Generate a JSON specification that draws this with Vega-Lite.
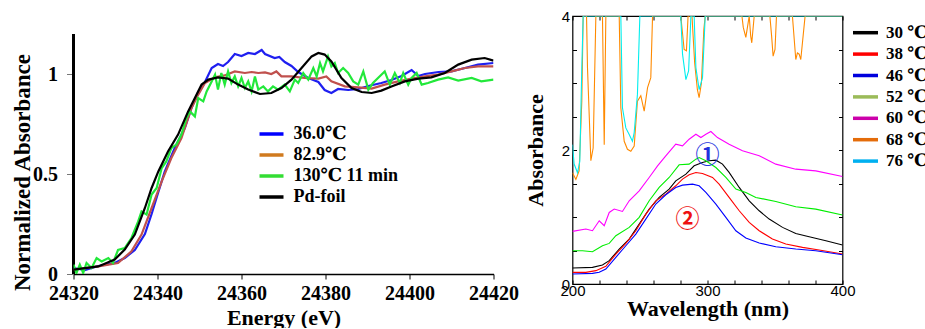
{
"$schema": "https://vega.github.io/schema/vega-lite/v6.json",
"padding": {"left": 10.5, "top": 8, "right": 0, "bottom": 0},
"background": "white",
"spacing": 79,
"bounds": "flush",
"config": {"view": {"stroke": null}, "axis": {"grid": false, "labelColor": "black", "titleColor": "black"}},
"datasets": {
"xanes": [
{"s":"36.0℃","E":24320.0,"A":0.03},{"s":"36.0℃","E":24322.7,"A":0.02},{"s":"36.0℃","E":24325.9,"A":0.04},{"s":"36.0℃","E":24329.8,"A":0.055},{"s":"36.0℃","E":24332.2,"A":0.08},{"s":"36.0℃","E":24334.6,"A":0.12},{"s":"36.0℃","E":24337.0,"A":0.2},{"s":"36.0℃","E":24338.6,"A":0.3},{"s":"36.0℃","E":24340.2,"A":0.41},{"s":"36.0℃","E":24341.7,"A":0.51},{"s":"36.0℃","E":24344.1,"A":0.63},{"s":"36.0℃","E":24346.5,"A":0.73},{"s":"36.0℃","E":24348.1,"A":0.83},{"s":"36.0℃","E":24349.7,"A":0.91},{"s":"36.0℃","E":24351.3,"A":0.96},{"s":"36.0℃","E":24352.9,"A":1.03},{"s":"36.0℃","E":24354.4,"A":1.05},{"s":"36.0℃","E":24355.6,"A":1.04},{"s":"36.0℃","E":24356.8,"A":1.06},{"s":"36.0℃","E":24358.4,"A":1.1},{"s":"36.0℃","E":24360.0,"A":1.09},{"s":"36.0℃","E":24361.6,"A":1.105},{"s":"36.0℃","E":24363.2,"A":1.1},{"s":"36.0℃","E":24364.8,"A":1.12},{"s":"36.0℃","E":24365.6,"A":1.1},{"s":"36.0℃","E":24367.9,"A":1.08},{"s":"36.0℃","E":24369.0,"A":1.085},{"s":"36.0℃","E":24370.3,"A":1.06},{"s":"36.0℃","E":24371.9,"A":1.04},{"s":"36.0℃","E":24373.5,"A":1.01},{"s":"36.0℃","E":24375.9,"A":0.98},{"s":"36.0℃","E":24378.3,"A":0.96},{"s":"36.0℃","E":24379.8,"A":0.92},{"s":"36.0℃","E":24381.4,"A":0.905},{"s":"36.0℃","E":24383.0,"A":0.925},{"s":"36.0℃","E":24385.4,"A":0.92},{"s":"36.0℃","E":24387.8,"A":0.925},{"s":"36.0℃","E":24390.2,"A":0.94},{"s":"36.0℃","E":24393.3,"A":0.955},{"s":"36.0℃","E":24395.7,"A":0.97},{"s":"36.0℃","E":24398.1,"A":0.99},{"s":"36.0℃","E":24400.5,"A":1.02},{"s":"36.0℃","E":24402.1,"A":0.99},{"s":"36.0℃","E":24403.7,"A":1.0},{"s":"36.0℃","E":24406.9,"A":1.01},{"s":"36.0℃","E":24410.0,"A":1.013},{"s":"36.0℃","E":24413.2,"A":1.03},{"s":"36.0℃","E":24416.3,"A":1.047},{"s":"36.0℃","E":24420.0,"A":1.055},
{"s":"82.9℃","E":24320.0,"A":0.022},{"s":"82.9℃","E":24325.9,"A":0.038},{"s":"82.9℃","E":24330.6,"A":0.055},{"s":"82.9℃","E":24333.8,"A":0.113},{"s":"82.9℃","E":24336.2,"A":0.197},{"s":"82.9℃","E":24338.6,"A":0.33},{"s":"82.9℃","E":24341.0,"A":0.463},{"s":"82.9℃","E":24343.3,"A":0.58},{"s":"82.9℃","E":24345.7,"A":0.68},{"s":"82.9℃","E":24348.1,"A":0.83},{"s":"82.9℃","E":24349.7,"A":0.897},{"s":"82.9℃","E":24351.3,"A":0.955},{"s":"82.9℃","E":24353.7,"A":0.983},{"s":"82.9℃","E":24356.0,"A":0.993},{"s":"82.9℃","E":24358.4,"A":1.013},{"s":"82.9℃","E":24360.8,"A":1.005},{"s":"82.9℃","E":24362.4,"A":1.01},{"s":"82.9℃","E":24364.0,"A":1.005},{"s":"82.9℃","E":24365.6,"A":1.008},{"s":"82.9℃","E":24367.1,"A":1.0},{"s":"82.9℃","E":24368.3,"A":1.013},{"s":"82.9℃","E":24369.5,"A":0.988},{"s":"82.9℃","E":24371.9,"A":0.988},{"s":"82.9℃","E":24375.1,"A":0.98},{"s":"82.9℃","E":24378.3,"A":0.977},{"s":"82.9℃","E":24380.2,"A":0.988},{"s":"82.9℃","E":24381.4,"A":0.963},{"s":"82.9℃","E":24384.6,"A":0.938},{"s":"82.9℃","E":24387.8,"A":0.933},{"s":"82.9℃","E":24391.0,"A":0.927},{"s":"82.9℃","E":24394.1,"A":0.947},{"s":"82.9℃","E":24397.3,"A":0.963},{"s":"82.9℃","E":24400.5,"A":0.977},{"s":"82.9℃","E":24403.7,"A":0.988},{"s":"82.9℃","E":24406.8,"A":0.997},{"s":"82.9℃","E":24410.0,"A":1.013},{"s":"82.9℃","E":24413.2,"A":1.03},{"s":"82.9℃","E":24416.3,"A":1.038},{"s":"82.9℃","E":24420.0,"A":1.038},
{"s":"130℃ 11 min","E":24320.0,"A":0.047},{"s":"130℃ 11 min","E":24320.7,"A":0.005},{"s":"130℃ 11 min","E":24321.5,"A":0.047},{"s":"130℃ 11 min","E":24322.3,"A":0.005},{"s":"130℃ 11 min","E":24323.1,"A":0.055},{"s":"130℃ 11 min","E":24324.3,"A":0.03},{"s":"130℃ 11 min","E":24325.5,"A":0.08},{"s":"130℃ 11 min","E":24326.7,"A":0.063},{"s":"130℃ 11 min","E":24328.3,"A":0.08},{"s":"130℃ 11 min","E":24329.4,"A":0.055},{"s":"130℃ 11 min","E":24330.6,"A":0.12},{"s":"130℃ 11 min","E":24332.2,"A":0.13},{"s":"130℃ 11 min","E":24333.8,"A":0.18},{"s":"130℃ 11 min","E":24335.4,"A":0.263},{"s":"130℃ 11 min","E":24336.2,"A":0.313},{"s":"130℃ 11 min","E":24337.4,"A":0.297},{"s":"130℃ 11 min","E":24338.6,"A":0.397},{"s":"130℃ 11 min","E":24339.8,"A":0.43},{"s":"130℃ 11 min","E":24341.0,"A":0.53},{"s":"130℃ 11 min","E":24342.1,"A":0.563},{"s":"130℃ 11 min","E":24343.3,"A":0.63},{"s":"130℃ 11 min","E":24344.5,"A":0.647},{"s":"130℃ 11 min","E":24345.7,"A":0.697},{"s":"130℃ 11 min","E":24346.9,"A":0.78},{"s":"130℃ 11 min","E":24347.7,"A":0.813},{"s":"130℃ 11 min","E":24348.9,"A":0.788},{"s":"130℃ 11 min","E":24349.7,"A":0.88},{"s":"130℃ 11 min","E":24350.9,"A":0.863},{"s":"130℃ 11 min","E":24351.7,"A":0.913},{"s":"130℃ 11 min","E":24352.9,"A":0.963},{"s":"130℃ 11 min","E":24353.7,"A":0.997},{"s":"130℃ 11 min","E":24354.4,"A":0.922},{"s":"130℃ 11 min","E":24355.2,"A":1.005},{"s":"130℃ 11 min","E":24356.0,"A":0.947},{"s":"130℃ 11 min","E":24356.8,"A":1.013},{"s":"130℃ 11 min","E":24357.6,"A":0.955},{"s":"130℃ 11 min","E":24358.4,"A":0.988},{"s":"130℃ 11 min","E":24359.2,"A":0.938},{"s":"130℃ 11 min","E":24360.0,"A":0.98},{"s":"130℃ 11 min","E":24360.8,"A":0.93},{"s":"130℃ 11 min","E":24361.6,"A":0.963},{"s":"130℃ 11 min","E":24362.4,"A":0.913},{"s":"130℃ 11 min","E":24363.2,"A":0.988},{"s":"130℃ 11 min","E":24364.0,"A":0.922},{"s":"130℃ 11 min","E":24365.2,"A":0.938},{"s":"130℃ 11 min","E":24366.3,"A":0.913},{"s":"130℃ 11 min","E":24367.5,"A":0.938},{"s":"130℃ 11 min","E":24368.7,"A":0.922},{"s":"130℃ 11 min","E":24370.3,"A":0.947},{"s":"130℃ 11 min","E":24371.5,"A":0.913},{"s":"130℃ 11 min","E":24372.7,"A":0.972},{"s":"130℃ 11 min","E":24373.5,"A":0.955},{"s":"130℃ 11 min","E":24374.7,"A":1.005},{"s":"130℃ 11 min","E":24375.9,"A":0.972},{"s":"130℃ 11 min","E":24377.1,"A":1.03},{"s":"130℃ 11 min","E":24377.9,"A":0.988},{"s":"130℃ 11 min","E":24378.7,"A":1.055},{"s":"130℃ 11 min","E":24379.4,"A":1.013},{"s":"130℃ 11 min","E":24380.6,"A":1.088},{"s":"130℃ 11 min","E":24381.4,"A":1.038},{"s":"130℃ 11 min","E":24382.2,"A":1.055},{"s":"130℃ 11 min","E":24383.0,"A":1.005},{"s":"130℃ 11 min","E":24384.2,"A":1.03},{"s":"130℃ 11 min","E":24385.4,"A":1.005},{"s":"130℃ 11 min","E":24386.6,"A":0.963},{"s":"130℃ 11 min","E":24387.8,"A":0.947},{"s":"130℃ 11 min","E":24389.0,"A":1.013},{"s":"130℃ 11 min","E":24390.2,"A":0.922},{"s":"130℃ 11 min","E":24391.3,"A":0.955},{"s":"130℃ 11 min","E":24392.5,"A":0.98},{"s":"130℃ 11 min","E":24394.1,"A":1.013},{"s":"130℃ 11 min","E":24395.3,"A":0.947},{"s":"130℃ 11 min","E":24396.5,"A":1.005},{"s":"130℃ 11 min","E":24397.7,"A":0.955},{"s":"130℃ 11 min","E":24398.5,"A":1.005},{"s":"130℃ 11 min","E":24399.7,"A":0.947},{"s":"130℃ 11 min","E":24400.5,"A":0.98},{"s":"130℃ 11 min","E":24401.7,"A":1.005},{"s":"130℃ 11 min","E":24402.9,"A":0.947},{"s":"130℃ 11 min","E":24404.4,"A":0.955},{"s":"130℃ 11 min","E":24406.8,"A":0.972},{"s":"130℃ 11 min","E":24409.2,"A":0.983},{"s":"130℃ 11 min","E":24411.6,"A":0.967},{"s":"130℃ 11 min","E":24414.8,"A":0.98},{"s":"130℃ 11 min","E":24417.1,"A":0.963},{"s":"130℃ 11 min","E":24420.0,"A":0.972},
{"s":"Pd-foil","E":24320.0,"A":0.022},{"s":"Pd-foil","E":24325.9,"A":0.038},{"s":"Pd-foil","E":24329.8,"A":0.072},{"s":"Pd-foil","E":24332.2,"A":0.122},{"s":"Pd-foil","E":24334.6,"A":0.197},{"s":"Pd-foil","E":24337.0,"A":0.33},{"s":"Pd-foil","E":24338.6,"A":0.43},{"s":"Pd-foil","E":24340.2,"A":0.513},{"s":"Pd-foil","E":24342.5,"A":0.613},{"s":"Pd-foil","E":24344.9,"A":0.697},{"s":"Pd-foil","E":24347.3,"A":0.813},{"s":"Pd-foil","E":24348.9,"A":0.88},{"s":"Pd-foil","E":24350.5,"A":0.947},{"s":"Pd-foil","E":24352.1,"A":0.972},{"s":"Pd-foil","E":24354.4,"A":0.983},{"s":"Pd-foil","E":24356.8,"A":0.977},{"s":"Pd-foil","E":24359.2,"A":0.947},{"s":"Pd-foil","E":24361.6,"A":0.922},{"s":"Pd-foil","E":24364.4,"A":0.9},{"s":"Pd-foil","E":24367.1,"A":0.905},{"s":"Pd-foil","E":24369.5,"A":0.93},{"s":"Pd-foil","E":24371.9,"A":0.972},{"s":"Pd-foil","E":24374.3,"A":1.03},{"s":"Pd-foil","E":24376.7,"A":1.088},{"s":"Pd-foil","E":24378.3,"A":1.105},{"s":"Pd-foil","E":24379.8,"A":1.097},{"s":"Pd-foil","E":24381.4,"A":1.063},{"s":"Pd-foil","E":24383.8,"A":0.98},{"s":"Pd-foil","E":24386.2,"A":0.93},{"s":"Pd-foil","E":24388.6,"A":0.91},{"s":"Pd-foil","E":24391.0,"A":0.905},{"s":"Pd-foil","E":24393.3,"A":0.917},{"s":"Pd-foil","E":24395.7,"A":0.938},{"s":"Pd-foil","E":24398.9,"A":0.963},{"s":"Pd-foil","E":24402.1,"A":0.977},{"s":"Pd-foil","E":24405.2,"A":0.983},{"s":"Pd-foil","E":24408.4,"A":1.005},{"s":"Pd-foil","E":24411.6,"A":1.047},{"s":"Pd-foil","E":24414.8,"A":1.072},{"s":"Pd-foil","E":24417.9,"A":1.08},{"s":"Pd-foil","E":24420.0,"A":1.067}
],
"uv": [
{"s":"30 ℃","w":200,"A":0.239},{"s":"30 ℃","w":214.8,"A":0.248},{"s":"30 ℃","w":222.2,"A":0.283},{"s":"30 ℃","w":227.2,"A":0.348},{"s":"30 ℃","w":234.6,"A":0.522},{"s":"30 ℃","w":242.0,"A":0.671},{"s":"30 ℃","w":249.4,"A":0.894},{"s":"30 ℃","w":256.8,"A":1.118},{"s":"30 ℃","w":264.2,"A":1.292},{"s":"30 ℃","w":271.6,"A":1.416},{"s":"30 ℃","w":276.5,"A":1.54},{"s":"30 ℃","w":284.0,"A":1.64},{"s":"30 ℃","w":290.1,"A":1.764},{"s":"30 ℃","w":296.3,"A":1.814},{"s":"30 ℃","w":301.2,"A":1.839},{"s":"30 ℃","w":306.2,"A":1.848},{"s":"30 ℃","w":311.1,"A":1.789},{"s":"30 ℃","w":316.0,"A":1.665},{"s":"30 ℃","w":323.5,"A":1.441},{"s":"30 ℃","w":330.9,"A":1.242},{"s":"30 ℃","w":338.3,"A":1.093},{"s":"30 ℃","w":345.7,"A":0.969},{"s":"30 ℃","w":355.6,"A":0.845},{"s":"30 ℃","w":365.4,"A":0.755},{"s":"30 ℃","w":375.3,"A":0.706},{"s":"30 ℃","w":387.7,"A":0.646},{"s":"30 ℃","w":400,"A":0.581},
{"s":"38 ℃","w":200,"A":0.174},{"s":"38 ℃","w":209.9,"A":0.174},{"s":"38 ℃","w":217.3,"A":0.199},{"s":"38 ℃","w":224.7,"A":0.263},{"s":"38 ℃","w":232.1,"A":0.447},{"s":"38 ℃","w":239.5,"A":0.606},{"s":"38 ℃","w":246.9,"A":0.795},{"s":"38 ℃","w":254.3,"A":1.043},{"s":"38 ℃","w":261.7,"A":1.242},{"s":"38 ℃","w":269.1,"A":1.342},{"s":"38 ℃","w":276.5,"A":1.466},{"s":"38 ℃","w":281.5,"A":1.565},{"s":"38 ℃","w":286.4,"A":1.63},{"s":"38 ℃","w":291.4,"A":1.665},{"s":"38 ℃","w":296.3,"A":1.65},{"s":"38 ℃","w":303.7,"A":1.59},{"s":"38 ℃","w":308.6,"A":1.491},{"s":"38 ℃","w":316.0,"A":1.292},{"s":"38 ℃","w":323.5,"A":1.093},{"s":"38 ℃","w":330.9,"A":0.919},{"s":"38 ℃","w":338.3,"A":0.795},{"s":"38 ℃","w":348.1,"A":0.671},{"s":"38 ℃","w":358.0,"A":0.596},{"s":"38 ℃","w":370.4,"A":0.547},{"s":"38 ℃","w":382.7,"A":0.507},{"s":"38 ℃","w":400,"A":0.447},
{"s":"46 ℃","w":200,"A":0.149},{"s":"46 ℃","w":214.8,"A":0.159},{"s":"46 ℃","w":219.8,"A":0.174},{"s":"46 ℃","w":224.7,"A":0.224},{"s":"46 ℃","w":232.1,"A":0.398},{"s":"46 ℃","w":239.5,"A":0.571},{"s":"46 ℃","w":246.9,"A":0.745},{"s":"46 ℃","w":254.3,"A":0.969},{"s":"46 ℃","w":261.7,"A":1.193},{"s":"46 ℃","w":269.1,"A":1.332},{"s":"46 ℃","w":276.5,"A":1.441},{"s":"46 ℃","w":281.5,"A":1.476},{"s":"46 ℃","w":288.9,"A":1.491},{"s":"46 ℃","w":293.8,"A":1.466},{"s":"46 ℃","w":298.8,"A":1.366},{"s":"46 ℃","w":306.2,"A":1.193},{"s":"46 ℃","w":313.6,"A":0.994},{"s":"46 ℃","w":321.0,"A":0.795},{"s":"46 ℃","w":328.4,"A":0.686},{"s":"46 ℃","w":338.3,"A":0.611},{"s":"46 ℃","w":350.6,"A":0.557},{"s":"46 ℃","w":365.4,"A":0.522},{"s":"46 ℃","w":380.2,"A":0.497},{"s":"46 ℃","w":400,"A":0.437},
{"s":"52 ℃","w":200,"A":0.497},{"s":"52 ℃","w":207.4,"A":0.497},{"s":"52 ℃","w":214.8,"A":0.482},{"s":"52 ℃","w":222.2,"A":0.571},{"s":"52 ℃","w":227.2,"A":0.606},{"s":"52 ℃","w":232.1,"A":0.72},{"s":"52 ℃","w":242.0,"A":0.845},{"s":"52 ℃","w":249.4,"A":0.994},{"s":"52 ℃","w":256.8,"A":1.242},{"s":"52 ℃","w":264.2,"A":1.441},{"s":"52 ℃","w":271.6,"A":1.59},{"s":"52 ℃","w":279.0,"A":1.779},{"s":"52 ℃","w":286.4,"A":1.789},{"s":"52 ℃","w":291.4,"A":1.863},{"s":"52 ℃","w":293.8,"A":1.888},{"s":"52 ℃","w":298.8,"A":1.839},{"s":"52 ℃","w":306.2,"A":1.739},{"s":"52 ℃","w":313.6,"A":1.59},{"s":"52 ℃","w":321.0,"A":1.416},{"s":"52 ℃","w":328.4,"A":1.366},{"s":"52 ℃","w":335.8,"A":1.292},{"s":"52 ℃","w":350.6,"A":1.232},{"s":"52 ℃","w":365.4,"A":1.153},{"s":"52 ℃","w":380.2,"A":1.118},{"s":"52 ℃","w":400,"A":1.029},
{"s":"60 ℃","w":200,"A":0.785},{"s":"60 ℃","w":209.9,"A":0.82},{"s":"60 ℃","w":214.8,"A":0.795},{"s":"60 ℃","w":219.8,"A":0.944},{"s":"60 ℃","w":223.5,"A":0.87},{"s":"60 ℃","w":227.2,"A":1.068},{"s":"60 ℃","w":230.9,"A":1.118},{"s":"60 ℃","w":237.0,"A":1.083},{"s":"60 ℃","w":242.0,"A":1.242},{"s":"60 ℃","w":249.4,"A":1.391},{"s":"60 ℃","w":256.8,"A":1.59},{"s":"60 ℃","w":263.0,"A":1.764},{"s":"60 ℃","w":269.1,"A":1.913},{"s":"60 ℃","w":276.5,"A":2.087},{"s":"60 ℃","w":281.5,"A":2.062},{"s":"60 ℃","w":286.4,"A":2.161},{"s":"60 ℃","w":291.4,"A":2.236},{"s":"60 ℃","w":295.1,"A":2.186},{"s":"60 ℃","w":298.8,"A":2.236},{"s":"60 ℃","w":302.5,"A":2.276},{"s":"60 ℃","w":307.4,"A":2.186},{"s":"60 ℃","w":316.0,"A":2.087},{"s":"60 ℃","w":325.9,"A":1.988},{"s":"60 ℃","w":338.3,"A":1.913},{"s":"60 ℃","w":350.6,"A":1.789},{"s":"60 ℃","w":365.4,"A":1.714},{"s":"60 ℃","w":380.2,"A":1.689},{"s":"60 ℃","w":400,"A":1.605},
{"s":"68 ℃","w":200,"A":1.66},{"s":"68 ℃","w":202.5,"A":1.56},{"s":"68 ℃","w":204.9,"A":1.69},{"s":"68 ℃","w":206.9,"A":2.73},{"s":"68 ℃","w":207.9,"A":4},{"s":"68 ℃","w":210.4,"A":4},{"s":"68 ℃","w":211.1,"A":3.23},{"s":"68 ℃","w":213.6,"A":1.84},{"s":"68 ℃","w":215.3,"A":2.03},{"s":"68 ℃","w":217.3,"A":4},{"s":"68 ℃","w":222.2,"A":4},{"s":"68 ℃","w":223.5,"A":2.08},{"s":"68 ℃","w":224.7,"A":4},{"s":"68 ℃","w":234.6,"A":4},{"s":"68 ℃","w":235.8,"A":2.63},{"s":"68 ℃","w":238.3,"A":2.13},{"s":"68 ℃","w":240.7,"A":2.01},{"s":"68 ℃","w":243.2,"A":1.98},{"s":"68 ℃","w":245.7,"A":2.06},{"s":"68 ℃","w":248.1,"A":2.73},{"s":"68 ℃","w":250.6,"A":2.81},{"s":"68 ℃","w":253.1,"A":2.58},{"s":"68 ℃","w":255.6,"A":2.93},{"s":"68 ℃","w":258.0,"A":3.08},{"s":"68 ℃","w":259.3,"A":4},{"s":"68 ℃","w":280.2,"A":4},{"s":"68 ℃","w":282.7,"A":3.5},{"s":"68 ℃","w":284.4,"A":3.48},{"s":"68 ℃","w":285.6,"A":4},{"s":"68 ℃","w":288.5,"A":4},{"s":"68 ℃","w":290.5,"A":3.3},{"s":"68 ℃","w":292.5,"A":2.9},{"s":"68 ℃","w":293.8,"A":2.78},{"s":"68 ℃","w":295.5,"A":3.0},{"s":"68 ℃","w":297.3,"A":3.8},{"s":"68 ℃","w":298.3,"A":4},{"s":"68 ℃","w":325.5,"A":4},{"s":"68 ℃","w":326.5,"A":3.83},{"s":"68 ℃","w":328.4,"A":3.68},{"s":"68 ℃","w":330.9,"A":4},{"s":"68 ℃","w":332.0,"A":3.7},{"s":"68 ℃","w":332.8,"A":3.6},{"s":"68 ℃","w":334.6,"A":4},{"s":"68 ℃","w":346.2,"A":4},{"s":"68 ℃","w":347.5,"A":3.7},{"s":"68 ℃","w":348.6,"A":3.4},{"s":"68 ℃","w":350.0,"A":3.5},{"s":"68 ℃","w":351.1,"A":4},{"s":"68 ℃","w":362.9,"A":4},{"s":"68 ℃","w":365.4,"A":3.35},{"s":"68 ℃","w":366.6,"A":3.45},{"s":"68 ℃","w":367.9,"A":3.43},{"s":"68 ℃","w":369.1,"A":3.35},{"s":"68 ℃","w":372.3,"A":4},{"s":"68 ℃","w":400,"A":4},
{"s":"76 ℃","w":200,"A":2.08},{"s":"76 ℃","w":201.2,"A":1.79},{"s":"76 ℃","w":203.7,"A":1.66},{"s":"76 ℃","w":205.4,"A":1.83},{"s":"76 ℃","w":206.9,"A":3.23},{"s":"76 ℃","w":207.9,"A":4},{"s":"76 ℃","w":235.8,"A":4},{"s":"76 ℃","w":237.0,"A":2.63},{"s":"76 ℃","w":239.5,"A":2.33},{"s":"76 ℃","w":242.0,"A":2.23},{"s":"76 ℃","w":244.4,"A":2.13},{"s":"76 ℃","w":245.7,"A":2.26},{"s":"76 ℃","w":248.1,"A":2.83},{"s":"76 ℃","w":249.9,"A":4},{"s":"76 ℃","w":280.2,"A":4},{"s":"76 ℃","w":281.5,"A":3.43},{"s":"76 ℃","w":284.0,"A":3.05},{"s":"76 ℃","w":286.0,"A":3.18},{"s":"76 ℃","w":287.7,"A":4},{"s":"76 ℃","w":290.1,"A":4},{"s":"76 ℃","w":291.4,"A":3.23},{"s":"76 ℃","w":293.8,"A":2.9},{"s":"76 ℃","w":296.3,"A":3.08},{"s":"76 ℃","w":298.3,"A":4},{"s":"76 ℃","w":400,"A":4}
]
},
"hconcat": [
{
"width": 420, "height": 258,
"data": {"name": "xanes"},
"layer": [
{
"mark": {"type": "rule", "color": "black", "strokeWidth": 1.5},
"encoding": {"x": {"datum": 24320, "type": "quantitative"}, "y": {"datum": 0, "type": "quantitative"}, "y2": {"datum": 1.2}}
},
{
"mark": {"type": "line", "strokeWidth": 2.2, "clip": true},
"encoding": {
"x": {"field": "E", "type": "quantitative", "scale": {"domain": [24320, 24420], "nice": false, "zero": false},
"axis": {"values": [24320, 24340, 24360, 24380, 24400, 24420], "format": "d", "labelFlush": false, "labelOverlap": false,
"labelFont": "Liberation Serif", "labelFontWeight": "bold", "labelFontSize": 20, "labelPadding": 4,
"tickSize": 5, "tickColor": "black", "domainColor": "black", "domainWidth": 1.5,
"title": "Energy (eV)", "titleFont": "Liberation Serif", "titleFontWeight": "bold", "titleFontSize": 22, "titlePadding": 4}},
"y": {"field": "A", "type": "quantitative", "scale": {"domain": [0, 1.29], "nice": false, "zero": false},
"axis": {"values": [0, 0.5, 1], "labelExpr": "datum.value", "domain": false,
"labelFont": "Liberation Serif", "labelFontWeight": "bold", "labelFontSize": 20, "labelPadding": 9,
"tickSize": 7, "tickColor": "#777777",
"title": "Normalized Absorbance", "titleFont": "Liberation Serif", "titleFontWeight": "bold", "titleFontSize": 23, "titlePadding": -1.5, "titleY": 156}},
"color": {"field": "s", "type": "nominal", "scale": {"domain": ["36.0℃", "82.9℃", "130℃ 11 min", "Pd-foil"], "range": ["#1f1ff0", "#c0504d", "#22e83a", "#000000"]}, "legend": null}
}
},
{
"transform": [{"filter": "false"}],
"mark": {"type": "line"},
"encoding": {
"x": {"field": "E", "type": "quantitative"},
"y": {"field": "A", "type": "quantitative"},
"color": {"field": "s", "type": "nominal", "scale": {"domain": ["36.0℃", "82.9℃", "130℃ 11 min", "Pd-foil"], "range": ["#0000ff", "#d07a1e", "#33dd33", "#000000"]},
"legend": {"orient": "none", "legendX": 186, "legendY": 106, "title": null, "symbolType": "M-1.2,0H1.2", "symbolSize": 400, "symbolStrokeWidth": 3.5,
"labelFont": "Liberation Serif, DejaVu Serif", "labelFontWeight": "bold", "labelFontSize": 18, "labelColor": "black", "labelOffset": 10, "rowPadding": 0}}
}
}
],
"resolve": {"scale": {"color": "independent"}}
},
{
"width": 270, "height": 268,
"view": {"stroke": "black", "strokeWidth": 1.2},
"data": {"name": "uv"},
"layer": [
{
"mark": {"type": "line", "strokeWidth": 1.1, "clip": true},
"encoding": {
"x": {"field": "w", "type": "quantitative", "scale": {"domain": [200, 400], "nice": false, "zero": false},
"axis": {"values": [200,220,240,260,280,300,320,340,360,380,400], "labelExpr": "datum.value % 100 === 0 ? datum.value : ''", "labelFlush": false, "labelOverlap": false,
"labelFont": "Liberation Sans", "labelFontSize": 15, "labelPadding": 3, "tickSize": -4, "tickColor": "black", "domain": false,
"title": "Wavelength (nm)", "titleFont": "Liberation Serif", "titleFontWeight": "bold", "titleFontSize": 22, "titlePadding": 0}},
"y": {"field": "A", "type": "quantitative", "scale": {"domain": [0, 4], "nice": false, "zero": false},
"axis": {"values": [0,0.5,1,1.5,2,2.5,3,3.5,4], "labelExpr": "datum.value % 2 === 0 ? datum.value : ''", "labelOverlap": false,
"labelFont": "Liberation Sans", "labelFontSize": 15, "labelPadding": 7, "tickSize": -4, "tickColor": "black", "domain": false,
"title": "Absorbance", "titleFont": "Liberation Serif", "titleFontWeight": "bold", "titleFontSize": 22, "titlePadding": 14}},
"color": {"field": "s", "type": "nominal", "scale": {"domain": ["30 ℃","38 ℃","46 ℃","52 ℃","60 ℃","68 ℃","76 ℃"], "range": ["#000000", "#ff0000", "#0000ff", "#00ee00", "#ff00ff", "#ff8a00", "#00eeee"]}, "legend": null}
}
},
{
"transform": [{"filter": "false"}],
"mark": {"type": "line"},
"encoding": {
"x": {"field": "w", "type": "quantitative", "axis": {"orient": "top", "values": [200,220,240,260,280,300,320,340,360,380,400], "labels": false, "tickSize": -4, "tickColor": "black", "domain": false, "title": null}},
"y": {"field": "A", "type": "quantitative", "axis": {"orient": "right", "values": [0,0.5,1,1.5,2,2.5,3,3.5,4], "labels": false, "tickSize": -4, "tickColor": "black", "domain": false, "title": null}},
"color": {"field": "s", "type": "nominal", "scale": {"domain": ["30 ℃","38 ℃","46 ℃","52 ℃","60 ℃","68 ℃","76 ℃"], "range": ["#000000", "#ff0000", "#0000dd", "#9bbb59", "#cc00aa", "#e46c0a", "#00b0f0"]},
"legend": {"orient": "none", "legendX": 281, "legendY": 4.7, "title": null, "symbolType": "M-1.25,0H1.25", "symbolSize": 400, "symbolStrokeWidth": 3.5,
"labelFont": "Liberation Serif, DejaVu Serif", "labelFontWeight": "bold", "labelFontSize": 17, "labelColor": "black", "labelOffset": 8.5, "rowPadding": 1.4}}
}
},
{
"data": {"values": [{"w": 300, "A": 1.91, "t": "①"}]},
"mark": {"type": "text", "font": "Noto Sans CJK JP", "fontSize": 24, "fontWeight": "bold", "color": "#2233dd"},
"encoding": {"x": {"field": "w", "type": "quantitative", "axis": null}, "y": {"field": "A", "type": "quantitative", "axis": null}, "text": {"field": "t"}}
},
{
"data": {"values": [{"w": 285.2, "A": 0.96, "t": "②"}]},
"mark": {"type": "text", "font": "Noto Sans CJK JP", "fontSize": 24, "fontWeight": "bold", "color": "#ee1111"},
"encoding": {"x": {"field": "w", "type": "quantitative", "axis": null}, "y": {"field": "A", "type": "quantitative", "axis": null}, "text": {"field": "t"}}
}
],
"resolve": {"scale": {"color": "independent"}, "axis": {"x": "independent", "y": "independent"}}
}
]
}
